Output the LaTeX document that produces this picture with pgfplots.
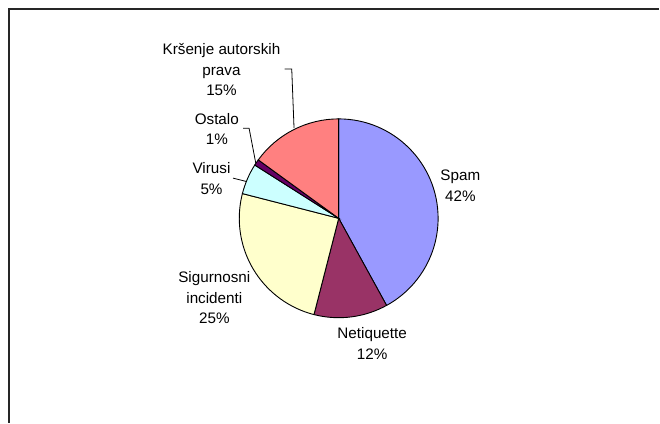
\documentclass[border=0pt]{standalone}
\usepackage{pgfplots}
\pgfplotsset{compat=1.18}
\usepackage{pgfplotstable}
\usepackage{fontspec}
\setmainfont{Liberation Sans}

\definecolor{cspam}{HTML}{9999FF}
\definecolor{cneti}{HTML}{993366}
\definecolor{csigu}{HTML}{FFFFCC}
\definecolor{cviru}{HTML}{CCFFFF}
\definecolor{costa}{HTML}{660066}
\definecolor{ckrs}{HTML}{FF8080}

% share of each category, clockwise from 12 o'clock
\pgfplotstableread[col sep=comma]{
name,value,color
Spam,42,cspam
Netiquette,12,cneti
Sigurnosni incidenti,25,csigu
Virusi,5,cviru
Ostalo,1,costa
Krsenje autorskih prava,15,ckrs
}\piedata

\begin{document}
\begin{tikzpicture}
\begin{axis}[
    hide axis, scale only axis,
    width=660bp, height=423bp,
    xmin=0, xmax=660, ymin=0, ymax=423,
    clip=false,
    at={(0,0)}, anchor=south west,
]
\path (axis cs:0,0) rectangle (axis cs:660,423);
% chart frame (only top and left edges visible)
\draw[line width=1.2bp, black!85] (axis cs:9,0) -- (axis cs:9,414) -- (axis cs:660,414);

\pgfplotstablegetrowsof{\piedata}
\pgfmathtruncatemacro{\nrows}{\pgfplotsretval-1}
\def\cum{90}
\pgfplotsforeachungrouped \i in {0,...,\nrows}{%
  \pgfplotstablegetelem{\i}{value}\of\piedata \let\v\pgfplotsretval
  \pgfplotstablegetelem{\i}{color}\of\piedata \let\c\pgfplotsretval
  \pgfmathsetmacro{\endang}{\cum-3.6*\v}
  \edef\tmp{\noexpand\filldraw[fill=\c, draw=black, line width=0.9bp]
    (axis cs:339,204.5) -- ++(\cum:99.5bp)
    arc[start angle=\cum, end angle=\endang, radius=99.5bp] -- cycle;}
  \tmp
  \global\let\cum\endang
}

% leader lines
\draw[line width=0.8bp] (axis cs:285,354) -- (axis cs:292,354) -- (axis cs:294.3,294.7);
\draw[line width=0.8bp] (axis cs:243.3,294.7) -- (axis cs:249.3,294.7) -- (axis cs:256,259.7);
\draw[line width=0.8bp] (axis cs:233.3,244.7) -- (axis cs:246.7,241.3);

% data labels
\tikzset{lbl/.style={align=center, inner sep=0pt, font=\fontsize{15.3}{20.5}\selectfont}}
\node[lbl] at (axis cs:460.8,237) {Spam\\42\%};
\node[lbl] at (axis cs:372.5,79) {Netiquette\\12\%};
\node[lbl] at (axis cs:214.5,125) {Sigurnosni\\incidenti\\25\%};
\node[lbl] at (axis cs:211.7,244.2) {Virusi\\5\%};
\node[lbl] at (axis cs:217,293.8) {Ostalo\\1\%};
\node[lbl] at (axis cs:221.7,353) {Kršenje autorskih\\prava\\15\%};
\end{axis}
\end{tikzpicture}
\end{document}
